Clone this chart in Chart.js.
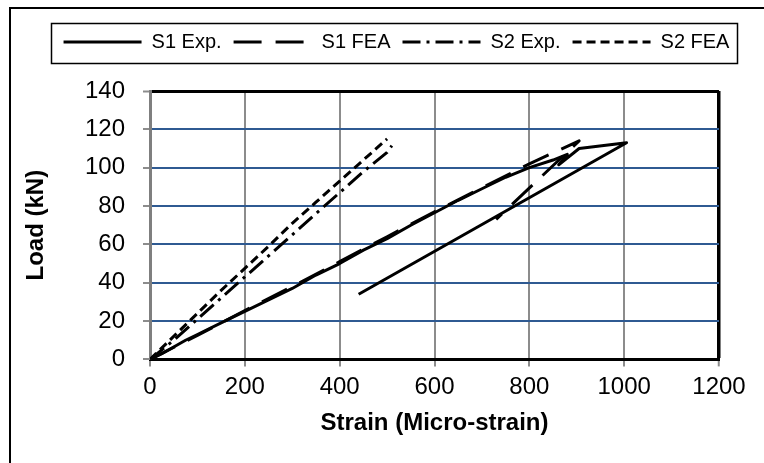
<!DOCTYPE html>
<html>
<head>
<meta charset="utf-8">
<script src="https://cdn.jsdelivr.net/npm/chart.js@4.4.1/dist/chart.umd.min.js"></script>
<style>
  html, body { margin: 0; padding: 0; background: #fff; }
  #wrap { position: relative; width: 764px; height: 463px; }
</style>
</head>
<body>
<div id="wrap"><canvas id="strainChart"></canvas></div>
<script>
// ---- data ----
const seriesNames = ['S1 Exp.', 'S1 FEA', 'S2 Exp.', 'S2 FEA'];
const xTicks = [0, 200, 400, 600, 800, 1000, 1200];
const yTicks = [0, 20, 40, 60, 80, 100, 120, 140];

const s1ExpStrain = [0, 25, 50, 75, 100, 150, 200, 250, 300, 350, 400, 450, 500, 550, 600, 650, 700, 750, 800, 850, 880, 862, 905, 1005, 440];
const s1ExpLoad   = [0, 3, 6.5, 10, 13, 19, 25, 31, 37, 44, 50, 57, 63, 70, 76.5, 83, 89, 95, 100, 104, 107, 101.5, 110, 113, 34];

const s1FeaStrain = [0, 100, 200, 300, 400, 500, 600, 700, 800, 905, 730];
const s1FeaLoad   = [0, 12.5, 25.5, 38, 51, 64, 77, 89.5, 102, 114, 73];

const s2ExpStrain = [0, 50, 100, 150, 200, 250, 300, 350, 400, 450, 500, 510];
const s2ExpLoad   = [0, 10, 21, 32, 43, 54, 65, 76, 87, 98, 108, 111.5];

const s2FeaStrain = [0, 50, 100, 150, 200, 250, 300, 350, 400, 450, 500];
const s2FeaLoad   = [0, 12, 24, 36, 47.5, 59, 71, 82, 93, 104, 115];

const FONT = "'Liberation Sans', Arial, sans-serif";
Chart.defaults.font.family = FONT;
Chart.defaults.color = '#000';

function toPoints(xs, ys) {
    return xs.map((x, i) => ({ x: x, y: ys[i] }));
}

function series(label, xs, ys, dash) {
    return {
        label: label,
        data: toPoints(xs, ys),
        showLine: true,
        borderColor: '#000',
        backgroundColor: '#000',
        borderWidth: 3,
        borderDash: dash,
        borderCapStyle: 'butt',
        borderJoinStyle: 'round',
        pointRadius: 0,
        pointHoverRadius: 0,
        fill: false,
        tension: 0
    };
}

// extra room under the legend + shift it right like the original
const legendTweak = {
    id: 'legendTweak',
    beforeLayout(chart) {
        const lg = chart.legend;
        if (lg && !lg._tweaked) {
            const fit = lg.fit;
            lg.fit = function () { fit.call(this); this.height += 29; };
            lg._tweaked = true;
        }
    },
    afterLayout(chart) {
        const lg = chart.legend;
        if (lg) { lg.left += 28; lg.right += 28; }
    }
};

// frames: outer chart border, legend border
const frames = {
    id: 'frames',
    afterDraw(chart) {
        const ctx = chart.ctx;
        ctx.save();
        ctx.strokeStyle = '#000';
        ctx.lineWidth = 2;
        ctx.setLineDash([]);
        ctx.beginPath();
        ctx.moveTo(10, chart.height + 2);
        ctx.lineTo(10, 8);
        ctx.lineTo(chart.width + 2, 8);
        ctx.stroke();

        const hb = chart.legend && chart.legend.legendHitBoxes;
        if (hb && hb.length) {
            const first = hb[0], last = hb[hb.length - 1];
            const l = first.left - 13, r = last.left + last.width + 7;
            const t = first.top - 9, b = first.top + first.height + 11;
            ctx.lineWidth = 1.5;
            ctx.strokeRect(Math.round(l) + 0.5, Math.round(t) + 0.5, Math.round(r - l), Math.round(b - t));
        }
        ctx.restore();
    }
};

const defaultLabels = Chart.defaults.plugins.legend.labels.generateLabels;

new Chart(document.getElementById('strainChart'), {
    type: 'scatter',
    data: {
        datasets: [
            series(seriesNames[0], s1ExpStrain, s1ExpLoad, []),
            series(seriesNames[1], s1FeaStrain, s1FeaLoad, [28, 14]),
            series(seriesNames[2], s2ExpStrain, s2ExpLoad, [18, 6, 3, 6]),
            series(seriesNames[3], s2FeaStrain, s2FeaLoad, [9, 5])
        ]
    },
    options: {
        responsive: true,
        maintainAspectRatio: false,
        animation: false,
        layout: { padding: { top: 20, left: 18, right: 45, bottom: 17 } },
        plugins: {
            tooltip: { enabled: false },
            legend: {
                position: 'top',
                labels: {
                    usePointStyle: true,
                    pointStyle: 'line',
                    pointStyleWidth: 78,
                    padding: 12,
                    color: '#000',
                    font: { family: FONT, size: 20 },
                    generateLabels(chart) {
                        return defaultLabels(chart).map(item => {
                            const ds = chart.data.datasets[item.datasetIndex];
                            item.lineDash = ds.borderDash;
                            item.lineWidth = ds.borderWidth;
                            item.strokeStyle = ds.borderColor;
                            item.lineCap = 'butt';
                            return item;
                        });
                    }
                }
            }
        },
        scales: {
            x: {
                type: 'linear',
                min: xTicks[0],
                max: xTicks[xTicks.length - 1],
                afterBuildTicks(scale) { scale.ticks = xTicks.map(v => ({ value: v })); },
                ticks: {
                    autoSkip: false,
                    maxRotation: 0,
                    padding: 7,
                    color: '#000',
                    font: { family: FONT, size: 24 },
                    callback: v => String(v)
                },
                grid: {
                    color: c => (c.tick && c.tick.value === 1200) ? '#000' : '#8c8c8c',
                    lineWidth: c => (c.tick && c.tick.value === 1200) ? 3.5 : 2,
                    tickColor: '#8c8c8c',
                    tickLength: 7,
                    tickWidth: 2
                },
                border: { color: '#000', width: 3 },
                title: {
                    display: true,
                    text: 'Strain (Micro-strain)',
                    color: '#000',
                    padding: { top: 0, bottom: 8 },
                    font: { family: FONT, size: 24, weight: 'bold' }
                }
            },
            y: {
                type: 'linear',
                min: yTicks[0],
                max: yTicks[yTicks.length - 1],
                afterBuildTicks(scale) { scale.ticks = yTicks.map(v => ({ value: v })); },
                afterFit(scale) { scale.width = 132; },
                ticks: {
                    autoSkip: false,
                    padding: 18,
                    color: '#000',
                    font: { family: FONT, size: 24 },
                    callback: v => String(v)
                },
                grid: {
                    color: c => (c.tick && c.tick.value === 140) ? '#000' : (c.tick && c.tick.value === 0 ? '#000' : '#2f5a92'),
                    lineWidth: c => (c.tick && c.tick.value === 140) ? 3 : 2,
                    tickColor: '#8c8c8c',
                    tickLength: 7,
                    tickWidth: 2
                },
                border: { color: '#7f7f7f', width: 3 },
                title: {
                    display: true,
                    text: 'Load (kN)',
                    color: '#000',
                    padding: { top: 4, bottom: 4 },
                    font: { family: FONT, size: 24, weight: 'bold' }
                }
            }
        }
    },
    plugins: [legendTweak, frames]
});
</script>
</body>
</html>
